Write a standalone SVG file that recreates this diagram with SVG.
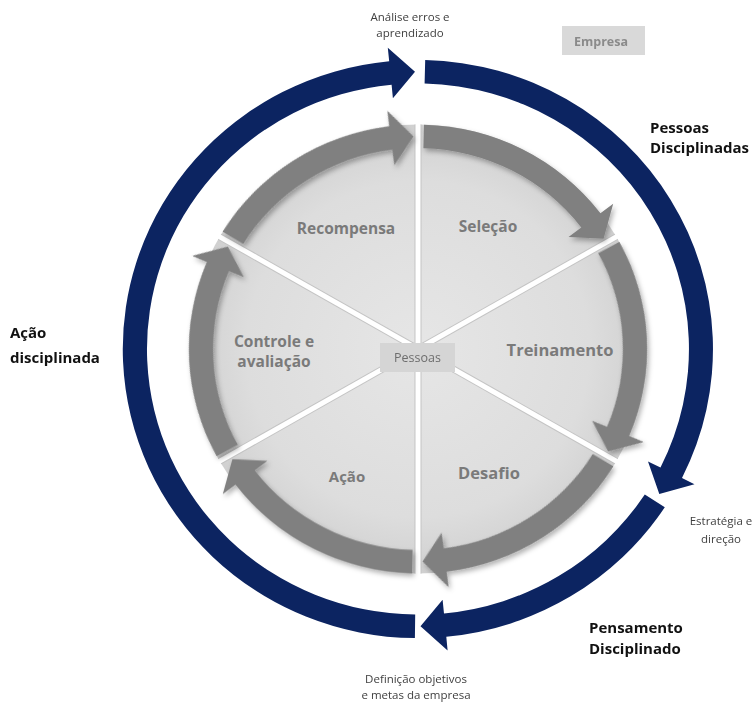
<svg xmlns="http://www.w3.org/2000/svg" xmlns:xlink="http://www.w3.org/1999/xlink" width="756" height="703" viewBox="0 0 756 703">
  <style>
    text { font-family: "Open Sans", "Noto Sans", "Liberation Sans", sans-serif; }
    .sm { font-size: 11.5px; fill: #404040; text-anchor: middle; }
    .big { font-size: 15px; font-weight: 700; fill: #111111; }
    .lab { font-size: 15.5px; font-weight: 700; fill: #7a7a7a; text-anchor: middle; }
    .blue { fill: #0c2461; }
    .gray { fill: #808080; }
    .wedge { fill: url(#wg); }
    .div1 { stroke: #c4c4c4; stroke-width: 7; }
    .div2 { stroke: #ffffff; stroke-width: 5; }
  </style>
  <defs>
    <radialGradient id="wg" gradientUnits="userSpaceOnUse" cx="0" cy="0" r="229">
      <stop offset="0" stop-color="#e6e6e6"/>
      <stop offset="0.75" stop-color="#dddddd"/>
      <stop offset="1" stop-color="#d0d0d0"/>
    </radialGradient>
    <filter id="sh" x="-30%" y="-30%" width="160%" height="160%">
      <feDropShadow dx="2" dy="3" stdDeviation="2.5" flood-color="#000000" flood-opacity="0.3"/>
    </filter>
    <path id="wedge" d="M0 0 L0 -229 A229 229 0 0 1 198.3 -114.5 Z"/>
    <path id="ia" d="M 6 -228.9 A 229 229 0 0 1 182.4 -138.5 L 195.2 -148.1 L 185.6 -112.4 L 150.5 -114.3 L 163.3 -123.9 A 205 205 0 0 0 5.4 -204.9 Z"/>
  </defs>

  <rect x="0" y="0" width="756" height="703" fill="#ffffff"/>

  <!-- sector nodes -->
  <g id="node-selecao">
    <use xlink:href="#wedge" href="#wedge" class="wedge" transform="translate(418,349) scale(1,0.98) rotate(0)"/>
    <text class="lab" x="488" y="232">Seleção</text>
  </g>
  <g id="node-treinamento">
    <use xlink:href="#wedge" href="#wedge" class="wedge" transform="translate(418,349) scale(1,0.98) rotate(60)"/>
    <text class="lab" x="560" y="356" style="font-size:16.5px">Treinamento</text>
  </g>
  <g id="node-desafio">
    <use xlink:href="#wedge" href="#wedge" class="wedge" transform="translate(418,349) scale(1,0.98) rotate(120)"/>
    <text class="lab" x="489" y="479" style="font-size:16.5px">Desafio</text>
  </g>
  <g id="node-acao">
    <use xlink:href="#wedge" href="#wedge" class="wedge" transform="translate(418,349) scale(1,0.98) rotate(180)"/>
    <text class="lab" x="347" y="482" style="font-size:15px">Ação</text>
  </g>
  <g id="node-controle">
    <use xlink:href="#wedge" href="#wedge" class="wedge" transform="translate(418,349) scale(1,0.98) rotate(240)"/>
    <text class="lab" x="274" y="347">Controle e</text>
    <text class="lab" x="274" y="367">avaliação</text>
  </g>
  <g id="node-recompensa">
    <use xlink:href="#wedge" href="#wedge" class="wedge" transform="translate(418,349) scale(1,0.98) rotate(300)"/>
    <text class="lab" x="346" y="234">Recompensa</text>
  </g>

  <!-- dividers -->
  <g id="dividers" transform="translate(418,349) scale(1,0.98)">
    <line class="div1" x1="0" y1="-229" x2="0" y2="229"/>
    <line class="div1" x1="198.3" y1="-114.5" x2="-198.3" y2="114.5"/>
    <line class="div1" x1="198.3" y1="114.5" x2="-198.3" y2="-114.5"/>
    <line class="div2" x1="0" y1="-231" x2="0" y2="231"/>
    <line class="div2" x1="200" y1="-115.5" x2="-200" y2="115.5"/>
    <line class="div2" x1="200" y1="115.5" x2="-200" y2="-115.5"/>
  </g>

  <!-- connectors -->
  <g id="connectors">
    <g id="inner-arrows" filter="url(#sh)">
      <g transform="translate(418,349) scale(1,0.98)">
        <use xlink:href="#ia" href="#ia" class="gray" transform="rotate(0)"/>
        <use xlink:href="#ia" href="#ia" class="gray" transform="rotate(60)"/>
        <use xlink:href="#ia" href="#ia" class="gray" transform="rotate(120)"/>
        <use xlink:href="#ia" href="#ia" class="gray" transform="rotate(180)"/>
        <use xlink:href="#ia" href="#ia" class="gray" transform="rotate(240)"/>
        <use xlink:href="#ia" href="#ia" class="gray" transform="rotate(300)"/>
      </g>
    </g>
    <g id="outer-arrows" transform="translate(418,349) scale(1,0.98)">
      <path class="blue" d="M -3.1 295 A 295 295 0 0 1 -28.8 -293.6 L -30.2 -307.5 L -3 -283 L -25.1 -255.8 L -26.4 -269.7 A 271 271 0 0 0 -2.8 271 Z"/>
      <path class="blue" d="M 7.2 -294.9 A 295 295 0 0 1 264 131.6 L 276.5 137.9 L 241.3 147.9 L 230 114.7 L 242.5 120.9 A 271 271 0 0 0 6.6 -270.9 Z"/>
      <path class="blue" d="M 246.8 161.5 A 295 295 0 0 1 28.3 293.6 L 29.6 307.6 L 2.5 283 L 24.6 255.8 L 26 269.8 A 271 271 0 0 0 226.8 148.4 Z"/>
    </g>
  </g>

  <!-- center node -->
  <g id="node-pessoas">
    <rect x="380" y="343" width="75" height="29" fill="#d5d5d5"/>
    <text x="417.5" y="362" style="font-size:12.5px; fill:#6d6d6d; text-anchor:middle">Pessoas</text>
  </g>

  <g id="node-empresa">
    <rect x="562" y="26" width="83" height="29" fill="#d9d9d9"/>
    <text x="601" y="46" style="font-size:12.5px; font-weight:700; fill:#8a8a8a; text-anchor:middle">Empresa</text>
  </g>

  <g id="label-analise">
    <text class="sm" x="410" y="21">Análise erros e</text>
    <text class="sm" x="410" y="37">aprendizado</text>
  </g>
  <g id="label-estrategia">
    <text class="sm" x="721" y="525">Estratégia e</text>
    <text class="sm" x="721" y="543">direção</text>
  </g>
  <g id="label-definicao">
    <text class="sm" x="416" y="683">Definição objetivos</text>
    <text class="sm" x="416" y="699">e metas da empresa</text>
  </g>

  <g id="node-pessoas-disciplinadas">
    <text class="big" x="650" y="133">Pessoas</text>
    <text class="big" x="650" y="153">Disciplinadas</text>
  </g>
  <g id="node-acao-disciplinada">
    <text class="big" x="10" y="338">Ação</text>
    <text class="big" x="10" y="363">disciplinada</text>
  </g>
  <g id="node-pensamento-disciplinado">
    <text class="big" x="589" y="633">Pensamento</text>
    <text class="big" x="589" y="654">Disciplinado</text>
  </g>
</svg>
